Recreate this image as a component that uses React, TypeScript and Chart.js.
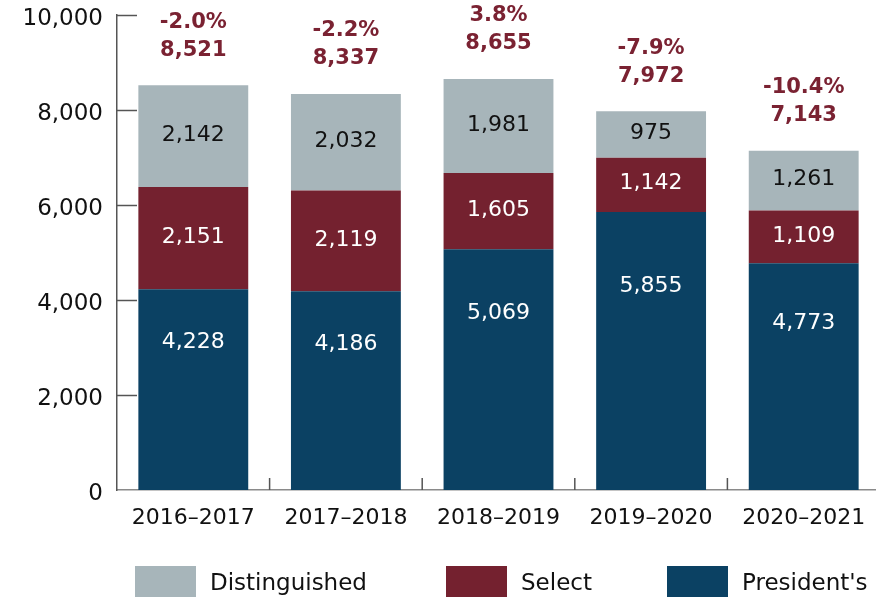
import React, { useEffect, useRef } from "react";
import { Chart, registerables } from "chart.js";

Chart.register(...registerables);

const categories = ["2016–2017", "2017–2018", "2018–2019", "2019–2020", "2020–2021"];
const presidents = [4228, 4186, 5069, 5855, 4773];
const selectVals = [2151, 2119, 1605, 1142, 1109];
const distinguished = [2142, 2032, 1981, 975, 1261];
const totals = [8521, 8337, 8655, 7972, 7143];
const changes = ["-2.0%", "-2.2%", "3.8%", "-7.9%", "-10.4%"];
const yMin = 0;
const yMax = 10000;
const yStep = 2000;

const FONT = "'DejaVu Sans', sans-serif";
const C_DIST = "#a7b5ba";
const C_SEL = "#74212f";
const C_PRES = "#0b4163";
const C_LABEL = "#7a2232";
const C_AXIS = "#555555";

const fmt = (v: number) => v.toLocaleString("en-US");

const decorPlugin = {
  id: "decor",
  afterDatasetsDraw(chart: any) {
    const ctx = chart.ctx;
    const { left, bottom } = chart.chartArea;
    const xs = chart.scales.x;
    const ys = chart.scales.y;
    ctx.save();
    ctx.strokeStyle = C_AXIS;
    ctx.lineWidth = 1.5;
    for (let v = yMin + yStep; v <= yMax; v += yStep) {
      const py = Math.round(ys.getPixelForValue(v)) + 0.5;
      ctx.beginPath();
      ctx.moveTo(left, py);
      ctx.lineTo(left + 20, py);
      ctx.stroke();
    }
    for (let i = 0; i < categories.length - 1; i++) {
      const px = (xs.getPixelForValue(i) + xs.getPixelForValue(i + 1)) / 2;
      ctx.beginPath();
      ctx.moveTo(px, bottom);
      ctx.lineTo(px, bottom - 12);
      ctx.stroke();
    }
    ctx.textAlign = "center";
    ctx.textBaseline = "middle";
    ctx.font = `22px ${FONT}`;
    chart.data.datasets.forEach((ds: any, di: number) => {
      const meta = chart.getDatasetMeta(di);
      const frac = ds.labelPos;
      meta.data.forEach((bar: any, i: number) => {
        const p = bar.getProps(["x", "y", "base"], true);
        ctx.fillStyle = ds.labelColor;
        ctx.fillText(fmt(ds.data[i]), p.x, p.base + frac * (p.y - p.base) - 1);
      });
    });
    const topMeta = chart.getDatasetMeta(chart.data.datasets.length - 1);
    ctx.font = `bold 21px ${FONT}`;
    ctx.fillStyle = C_LABEL;
    topMeta.data.forEach((bar: any, i: number) => {
      const p = bar.getProps(["x", "y"], true);
      ctx.fillText(fmt(totals[i]), p.x, p.y - 35);
      ctx.fillText(changes[i], p.x, p.y - 63);
    });
    const legendX = [135, 446, 667];
    const order = [2, 1, 0];
    ctx.font = `23px ${FONT}`;
    ctx.textAlign = "left";
    order.forEach((di, k) => {
      const ds: any = chart.data.datasets[di];
      ctx.fillStyle = ds.backgroundColor;
      ctx.fillRect(legendX[k], 566, 61, 31);
      ctx.fillStyle = "#111";
      ctx.fillText(ds.label, legendX[k] + 61 + 14, 584);
    });
    ctx.restore();
  },
};

export default function App() {
  const ref = useRef<HTMLCanvasElement | null>(null);
  useEffect(() => {
    if (!ref.current) return;
    const chart = new Chart(ref.current, {
      type: "bar",
      data: {
        labels: categories,
        datasets: [
          { label: "President's", data: presidents, backgroundColor: C_PRES, labelColor: "#ffffff", labelPos: 0.73 } as any,
          { label: "Select", data: selectVals, backgroundColor: C_SEL, labelColor: "#ffffff", labelPos: 0.5 } as any,
          { label: "Distinguished", data: distinguished, backgroundColor: C_DIST, labelColor: "#111111", labelPos: 0.5 } as any,
        ],
      },
      options: {
        responsive: false,
        animation: false,
        devicePixelRatio: 1,
        barPercentage: 0.72,
        categoryPercentage: 1,
        layout: { padding: { top: 15, right: 0, left: 0, bottom: 59 } },
        plugins: { legend: { display: false }, tooltip: { enabled: false } },
        scales: {
          x: {
            stacked: true,
            grid: { display: false, drawTicks: false },
            border: { display: true, color: "#8a8a8a", width: 1.5 },
            ticks: { color: "#111", font: { family: FONT, size: 22 }, padding: 15, maxRotation: 0 },
            afterFit: (s: any) => { s.height = 50; s.paddingLeft = 0; s.paddingRight = 0; },
          },
          y: {
            stacked: true,
            min: yMin,
            max: yMax,
            grid: { display: false, drawTicks: false },
            border: { display: true, color: C_AXIS, width: 1.5 },
            ticks: {
              stepSize: yStep,
              color: "#111",
              font: { family: FONT, size: 23 },
              padding: 14,
              labelOffset: 4,
              callback: (v: any) => fmt(Number(v)),
            },
            afterFit: (s: any) => { s.width = 117; s.paddingTop = 0; s.paddingBottom = 0; },
          },
        },
      },
      plugins: [decorPlugin],
    } as any);
    return () => chart.destroy();
  }, []);
  return (
    <div style={{ position: "fixed", left: 0, top: 0, width: 876, height: 599, overflow: "hidden", background: "#fff" }}>
      <canvas ref={ref} width={880} height={599} style={{ width: 880, height: 599, display: "block" }} />
    </div>
  );
}
